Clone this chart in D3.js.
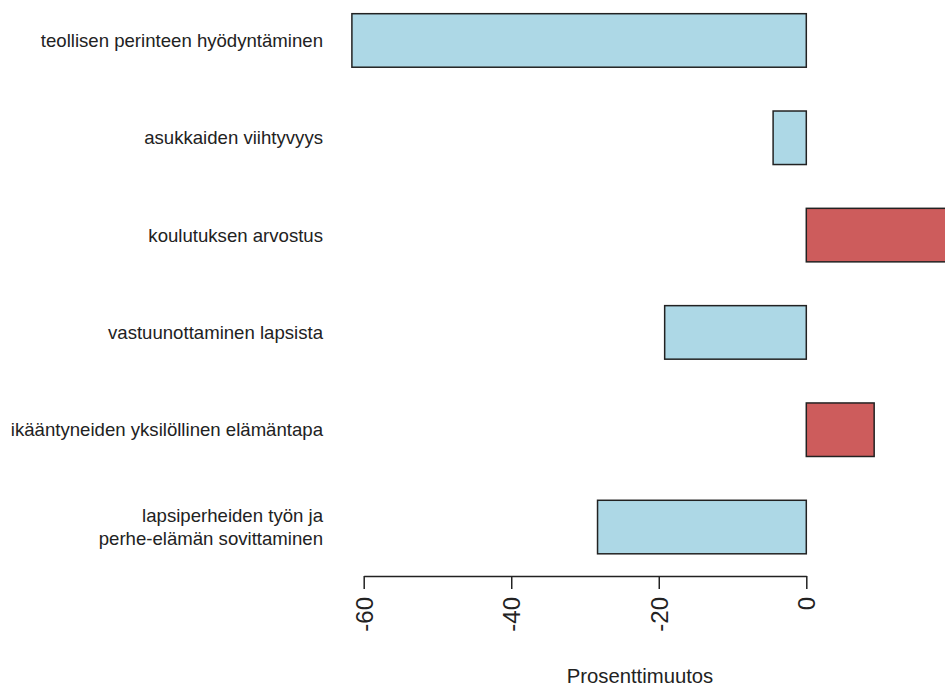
<!DOCTYPE html>
<html>
<head>
<meta charset="utf-8">
<script src="https://cdn.jsdelivr.net/npm/d3@7"></script>
<style>
  html, body { margin: 0; padding: 0; background: #fff; }
  svg { display: block; font-family: "Liberation Sans", Arial, Helvetica, sans-serif; }
</style>
</head>
<body>
<svg id="chart" width="945" height="686"></svg>
<script>
const categories = [
  ["teollisen perinteen hyödyntäminen"],
  ["asukkaiden viihtyvyys"],
  ["koulutuksen arvostus"],
  ["vastuunottaminen lapsista"],
  ["ikääntyneiden yksilöllinen elämäntapa"],
  ["lapsiperheiden työn ja", "perhe-elämän sovittaminen"]
];
const values = [-61.6, -4.5, 21, -19.2, 9.2, -28.3];
const tickValues = [-60, -40, -20, 0];
const axisTitle = "Prosenttimuutos";

const svg = d3.select("#chart");
const W = 945, H = 686;

const x = d3.scaleLinear().domain([-60, 0]).range([363.7, 806.3]);
const keys = categories.map((c, i) => i);
const y = d3.scaleBand().domain(keys).range([-8.2, 575.7])
  .paddingInner(0.45).paddingOuter(0.225);

svg.append("defs").append("clipPath").attr("id", "clip")
  .append("rect").attr("x", 0).attr("y", 0).attr("width", W).attr("height", H);

const g = svg.append("g").attr("clip-path", "url(#clip)");
g.selectAll("rect.bar").data(values).join("rect")
  .attr("class", "bar")
  .attr("x", d => Math.min(x(0), x(d)))
  .attr("width", d => Math.abs(x(d) - x(0)))
  .attr("y", (d, i) => y(i))
  .attr("height", y.bandwidth())
  .attr("fill", d => d < 0 ? "#ADD8E6" : "#CD5C5C")
  .attr("stroke", "#222")
  .attr("stroke-width", 1.5);

// category labels
const lab = svg.append("g");
categories.forEach((lines, i) => {
  const cy = y(i) + y.bandwidth() / 2;
  const lh = 23;
  const t = lab.append("text")
    .attr("text-anchor", "end")
    .attr("font-size", 18.6)
    .attr("fill", "#222");
  lines.forEach((ln, j) => {
    t.append("tspan")
      .attr("x", 323)
      .attr("y", cy + (j - (lines.length - 1) / 2) * lh)
      .attr("dy", "0.35em")
      .text(ln);
  });
});

// axis
const axis = d3.axisBottom(x).tickValues(tickValues).tickSize(13).tickSizeOuter(0)
  .tickFormat(d => String(d));
const ag = svg.append("g").attr("transform", "translate(0,576)").call(axis);
ag.select(".domain").attr("stroke", "#222").attr("stroke-width", 1.5);
ag.selectAll(".tick line").attr("stroke", "#222").attr("stroke-width", 1.5);
ag.selectAll(".tick text")
  .attr("font-size", 24)
  .attr("font-family", "'Liberation Sans', Arial, sans-serif")
  .attr("fill", "#222")
  .attr("transform", "rotate(-90)")
  .attr("text-anchor", "end")
  .attr("x", -21)
  .attr("y", 0)
  .attr("dy", "0.35em");

svg.append("text")
  .attr("x", 640)
  .attr("y", 683)
  .attr("text-anchor", "middle")
  .attr("font-size", 20.3)
  .attr("fill", "#222")
  .text(axisTitle);
</script>
</body>
</html>
